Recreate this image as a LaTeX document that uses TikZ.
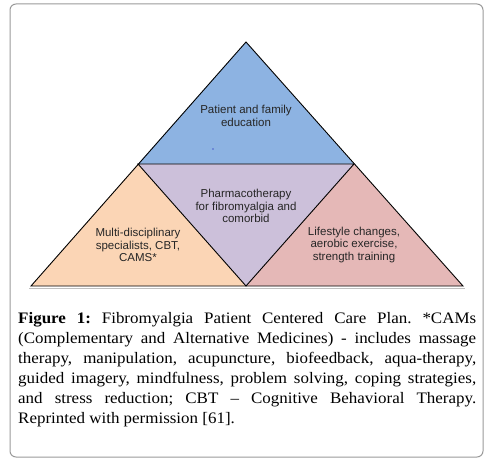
\documentclass[tikz,border=0pt]{standalone}
\usepackage{fontspec}
\setmainfont{Liberation Serif}
\newfontfamily\arialfont{Liberation Sans}
\newfontfamily\capfont[FakeStretch=1.06]{Liberation Serif}
\definecolor{topblue}{HTML}{8DB3E2}
\definecolor{midlav}{HTML}{CCC0DA}
\definecolor{leftpeach}{HTML}{FBD5B5}
\definecolor{rightpink}{HTML}{E5B8B7}
\definecolor{framegray}{HTML}{9A9A9A}
\frenchspacing
\tikzset{
  tri/.style={draw=black, line width=0.9pt, line join=miter},
  lbl/.style={font=\arialfont\fontsize{11.5}{12.5}\selectfont, align=center, inner sep=0pt, text=black!85},
}
\begin{document}
\begin{tikzpicture}[x=1pt,y=-1pt]
\useasboundingbox (0,0) rectangle (494,462);
\draw[framegray, line width=1pt, rounded corners=6pt] (10,4) rectangle (483,457);
% vertices
\coordinate (A) at (246,42);
\coordinate (L) at (31,286);
\coordinate (R) at (463,286);
\coordinate (ML) at (138,164);
\coordinate (MR) at (354,164);
\coordinate (B) at (246,286);
\fill[topblue] (A) -- (MR) -- (ML) -- cycle;
\fill[midlav] (ML) -- (MR) -- (B) -- cycle;
\fill[leftpeach] (ML) -- (B) -- (L) -- cycle;
\fill[rightpink] (MR) -- (R) -- (B) -- cycle;
\draw[gray!50, line width=1pt] (29,288) -- (465,288);
\draw[tri] (A) -- (R) -- (L) -- cycle;
\draw[tri] (ML) -- (MR) -- (B) -- cycle;
\fill[blue!70!black] (213,149) circle (0.6pt);
\node[lbl] (top) at (246,116) {Patient and family\\education};
\node[lbl] (mid) at (246,206) {Pharmacotherapy\\for fibromyalgia and\\comorbid};
\node[lbl] (left) at (138,245) {Multi-disciplinary\\specialists, CBT,\\CAMS*};
\node[lbl] (right) at (354,245) {Lifestyle changes,\\aerobic exercise,\\strength training};
\node[anchor=north west, inner sep=0pt, text width=458pt, align=justify,
      font=\capfont\fontsize{16}{20}\selectfont\frenchspacing] (cap) at (18,312)
 {\textbf{Figure 1:} Fibromyalgia Patient Centered Care Plan. *CAMs\linebreak (Complementary and Alternative Medicines) - includes massage\linebreak therapy, manipulation, acupuncture, biofeedback, aqua-therapy,\linebreak guided imagery, mindfulness, problem solving, coping strategies,\linebreak and stress reduction; CBT – Cognitive Behavioral Therapy.\linebreak Reprinted with permission [61].};
\end{tikzpicture}
\end{document}
